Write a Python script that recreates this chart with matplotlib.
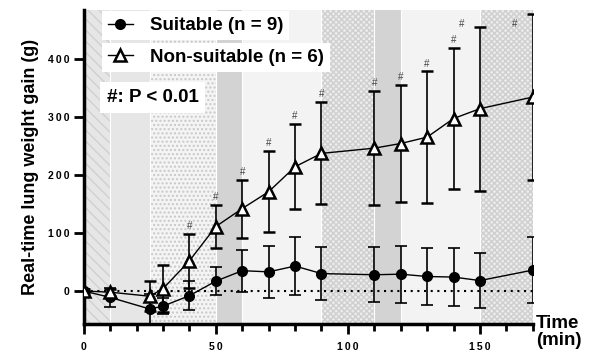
import matplotlib.pyplot as plt
from matplotlib.lines import Line2D

plt.rcParams['font.family'] = ['Liberation Sans', 'DejaVu Sans']
plt.rcParams['hatch.linewidth'] = 1.0

# time points (min)
time = [0, 10, 25, 30, 40, 50, 60, 70, 80, 90, 110, 120, 130, 140, 150, 170]

# Suitable (n = 9): mean and SD
suit_mean = [0, -11, -31, -26, -8, 17, 35, 33, 43, 30, 28, 29, 25, 24, 18, 36]
suit_sd = [3, 16, 25, 14, 25, 24, 36, 45, 50, 45, 47, 49, 49, 50, 48, 57]

# Non-suitable (n = 6): mean and SD
non_mean = [0, -2, -9, 4, 52, 111, 142, 171, 214, 237, 246, 254, 265, 297, 314, 334]
non_sd = [3, 6, 26, 40, 46, 37, 50, 70, 73, 88, 98, 101, 113, 122, 141, 143]

# time points with P < 0.01
sig_times = [40, 50, 60, 70, 80, 90, 110, 120, 130, 140, 150, 170]

# background phases
band_start = [0, 10, 25, 50, 60, 90, 110, 120, 150]
band_end = [10, 25, 50, 60, 90, 110, 120, 150, 170]
band_style = ['stripe', 'light', 'dots', 'dark', 'pale', 'check', 'dark', 'pale', 'check']

styles = {
    'stripe': dict(facecolor='#e6e6e6', edgecolor='#d0d0d0', hatch='\\\\\\'),
    'light': dict(facecolor='#e6e6e6', edgecolor='none', hatch=None),
    'dots': dict(facecolor='#f4f4f4', edgecolor='#c8c8c8', hatch='....'),
    'dark': dict(facecolor='#d3d3d3', edgecolor='none', hatch=None),
    'pale': dict(facecolor='#f3f3f3', edgecolor='none', hatch=None),
    'check': dict(facecolor='#ececec', edgecolor='#cfcfcf', hatch='xxxxxx'),
}

fig = plt.figure(figsize=(5.9, 3.55), dpi=100)
ax = fig.add_axes([0.142, 0.087, 0.761, 0.885])

for s, e, st in zip(band_start, band_end, band_style):
    ax.axvspan(s, e, linewidth=0, zorder=0, **styles[st])
for s in band_start[1:]:
    ax.axvline(s, color='white', lw=0.8, zorder=0.5)

ax.axhline(0, color='black', lw=1.5, ls=(0, (1, 2.2)), zorder=1)

ax.errorbar(time, suit_mean, yerr=suit_sd, color='black', lw=1, elinewidth=1.2,
            capsize=4, capthick=1.2, marker='o', ms=7, zorder=3)
ax.errorbar(time, non_mean, yerr=non_sd, color='black', lw=1, elinewidth=1.2,
            capsize=4, capthick=1.2, marker='^', ms=9, mfc='white', mew=1.8,
            zorder=4)

for t in sig_times:
    i = time.index(t)
    top = non_mean[i] + non_sd[i]
    if top > 440:
        ax.text(t - 7, 452, '#', ha='center', va='bottom', fontsize=7, color='#444444')
    else:
        ax.text(t, top + 5, '#', ha='center', va='bottom', fontsize=7, color='#444444')

ax.set_xlim(0, 170)
ax.set_ylim(-57, 484)
ax.set_xticks([0, 50, 100, 150])
ax.set_xticks(range(0, 171, 10), minor=True)
ax.set_yticks([0, 100, 200, 300, 400])

def spaced(v):
    return '\u2009'.join(str(v))

ax.set_xticklabels([spaced(v) for v in [0, 50, 100, 150]])
ax.set_yticklabels([spaced(v) for v in [0, 100, 200, 300, 400]])
ax.tick_params(axis='both', which='major', length=7, width=2, labelsize=7.5)
ax.tick_params(axis='x', which='major', pad=6)
ax.tick_params(axis='x', which='minor', length=5, width=2)
for lab in ax.get_xticklabels() + ax.get_yticklabels():
    lab.set_fontweight('bold')

for side in ['top', 'right']:
    ax.spines[side].set_visible(False)
for side in ['left', 'bottom']:
    ax.spines[side].set_linewidth(2.5)

ax.set_ylabel('Real-time lung weight gain (g)', fontsize=13, fontweight='bold', labelpad=6)
ax.text(1.007, 0.03, 'Time\n(min)', transform=ax.transAxes, ha='left', va='top',
        fontsize=13.5, fontweight='bold', linespacing=1.05)

h1 = Line2D([], [], color='black', lw=1, marker='o', ms=7)
h2 = Line2D([], [], color='black', lw=1, marker='^', ms=9, mfc='white', mew=1.8)
leg_kw = dict(frameon=True, fancybox=False, framealpha=1, edgecolor='white',
              prop=dict(weight='bold', size=13.5), handlelength=1.35,
              handletextpad=0.9, borderpad=0.32, borderaxespad=0)
leg1 = ax.legend([h1], ['Suitable (n = 9)'], loc='upper left',
                 bbox_to_anchor=(0.04, 0.996), **leg_kw)
ax.add_artist(leg1)
leg2 = ax.legend([h2], ['Non-suitable (n = 6)'], loc='upper left',
                 bbox_to_anchor=(0.04, 0.896), **leg_kw)
for lg in (leg1, leg2):
    lg.get_frame().set_linewidth(0)
    lg.set_zorder(6)

ax.text(0.051, 0.721, '#: P < 0.01', transform=ax.transAxes, fontsize=13.5,
        fontweight='bold', va='center', ha='left', zorder=6,
        bbox=dict(facecolor='white', edgecolor='none', pad=5))

fig.savefig('out.png', dpi=100)
